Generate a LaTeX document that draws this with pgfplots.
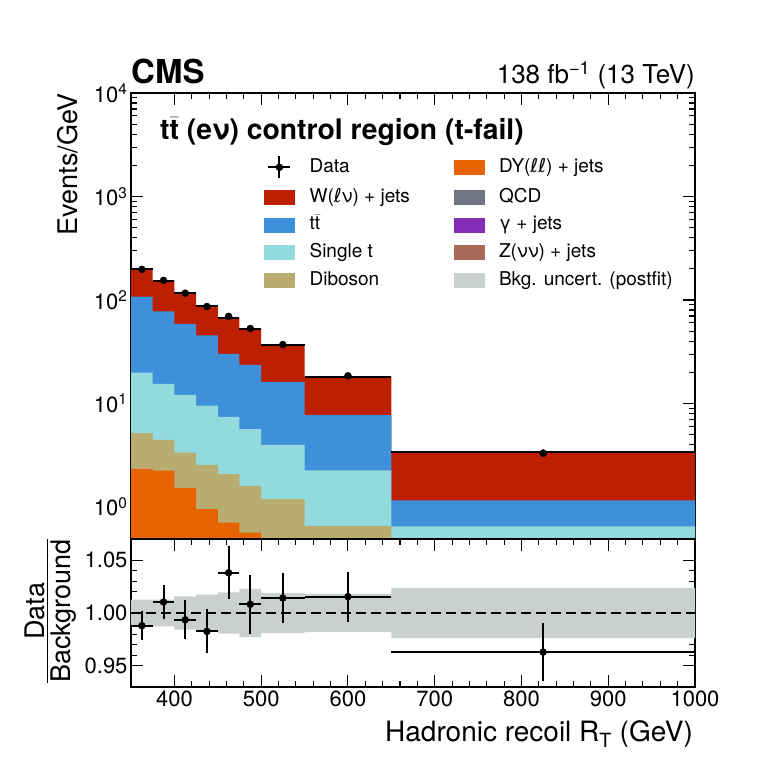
\documentclass[border=0pt]{standalone}
\usepackage{fontspec}
\setmainfont{TeX Gyre Heros}
\newfontfamily\dejavu{DejaVu Sans}
\usepackage{amsmath}
\usepackage{pgfplots}
\pgfplotsset{compat=1.18}
\definecolor{cW}{HTML}{BD1F01}
\definecolor{ctt}{HTML}{3F90DA}
\definecolor{cst}{HTML}{92DADD}
\definecolor{cdb}{HTML}{B9AC70}
\definecolor{cdy}{HTML}{E76300}
\definecolor{cqcd}{HTML}{717581}
\definecolor{cgam}{HTML}{832DB6}
\definecolor{czvv}{HTML}{A96B59}
\definecolor{cunc}{HTML}{C9D0CF}
\newcommand{\lep}{{\dejavu ℓ}}
\newcommand{\tb}{t$\bar{\text{t}}$}
\newcommand{\legbox}[1]{\addlegendimage{legend image code/.code={\fill[#1] (0pt,-7pt) rectangle (30pt,7pt);}}}
\pgfplotsset{cmsaxis/.style={
  scale only axis, width=564pt, anchor=south west,
  xmin=350, xmax=1000, xtick={400,500,...,1000}, minor x tick num=4,
  tick align=inside, tick pos=both,
  major tick length=12pt, minor tick length=6pt,
  axis line style={line width=2.2pt},
  tick style={line width=1.1pt, black},
  tick label style={font=\fontsize{22}{22}\selectfont},
  xticklabel style={/pgf/number format/1000 sep={}},
  /pgf/number format/assume math mode=true,
  label style={font=\fontsize{27}{27}\selectfont},
}}
\begin{document}
\begin{tikzpicture}[x=1pt,y=1pt]
\path[use as bounding box] (0,0) rectangle (773,773);
\begin{axis}[cmsaxis, name=main, at={(131pt,234pt)}, height=446pt,
  ymode=log, ymin=0.49, ymax=10000,
  ytick={1,10,100,1000,10000},
  yticklabels={10\textsuperscript{0},10\textsuperscript{1},10\textsuperscript{2},10\textsuperscript{3},10\textsuperscript{4}},
  minor ytick={0.5,0.6,0.7,0.8,0.9,2,3,4,5,6,7,8,9,20,30,40,50,60,70,80,90,200,300,400,500,600,700,800,900,2000,3000,4000,5000,6000,7000,8000,9000},
  xticklabels={},
  ylabel={Events/GeV},
  ylabel style={at={(axis description cs:-0.131,1)}, anchor=north east, inner sep=0pt},
  legend style={at={(axis description cs:0.2305,0.8652)}, anchor=north west, draw=none, fill=none,
    font=\fontsize{19}{19}\selectfont, row sep=7.7pt, column sep=0pt,
    nodes={inner sep=1pt, text height=14pt, text depth=4pt},
    /tikz/every odd column/.append style={column sep=14pt}},
  legend cell align=left, legend columns=2,
]
% stacked histogram (cumulative tops)
\addplot[forget plot, const plot, fill=cW, draw=none] coordinates {(350,0.1) (350,200) (375,153) (400,117) (425,88) (450,67) (475,52.6) (500,36.6) (550,18.2) (650,3.43) (1000,3.43) (1000,0.1)} -- cycle;
\addplot[forget plot, const plot, fill=ctt, draw=none] coordinates {(350,0.1) (350,108) (375,77.4) (400,58.9) (425,45.4) (450,30.2) (475,23.6) (500,16.2) (550,7.7) (650,1.16) (1000,1.16) (1000,0.1)} -- cycle;
\addplot[forget plot, const plot, fill=cst, draw=none] coordinates {(350,0.1) (350,19.9) (375,15.5) (400,12.1) (425,9.55) (450,7.42) (475,5.64) (500,3.98) (550,2.26) (650,0.65) (1000,0.65) (1000,0.1)} -- cycle;
\addplot[forget plot, const plot, fill=cdb, draw=none] coordinates {(350,0.1) (350,5.16) (375,4.45) (400,3.35) (425,2.55) (450,2.08) (475,1.6) (500,1.19) (550,0.655) (650,0.40) (1000,0.40) (1000,0.1)} -- cycle;
\addplot[forget plot, const plot, fill=cdy, draw=none] coordinates {(350,0.1) (350,2.33) (375,2.24) (400,1.52) (425,0.95) (450,0.705) (475,0.564) (500,0.40) (550,0.30) (650,0.20) (1000,0.20) (1000,0.1)} -- cycle;
% total background line
\addplot[forget plot, only marks, mark=none, error bars/.cd, x dir=both, x explicit, error mark=none,
  error bar style={draw=black, line width=2pt}] coordinates {
  (362.5,200) +- (12.5,0) (387.5,153) +- (12.5,0) (412.5,117) +- (12.5,0) (437.5,88) +- (12.5,0)
  (462.5,67) +- (12.5,0) (487.5,52.6) +- (12.5,0) (525,36.6) +- (25,0) (600,18.2) +- (50,0) (825,3.43) +- (175,0)};
% data
\addplot[forget plot, only marks, mark=*, mark size=3.5pt, black] coordinates {
  (362.5,197.6) (387.5,154.6) (412.5,116.3) (437.5,86.5) (462.5,69.5) (487.5,53.0) (525,37.1) (600,18.5) (825,3.30)};
% legend
\addlegendimage{legend image code/.code={\draw[black,line width=2pt] (4pt,0pt)--(26pt,0pt) (15pt,-11pt)--(15pt,11pt); \fill[black] (15pt,0pt) circle (3.5pt);}}
\addlegendentry{\makebox[143pt][l]{Data}}
\legbox{cdy}\addlegendentry{DY(\lep\lep) + jets}
\legbox{cW}\addlegendentry{\makebox[143pt][l]{W(\lep ν) + jets}}
\legbox{cqcd}\addlegendentry{QCD}
\legbox{ctt}\addlegendentry{\makebox[143pt][l]{\tb}}
\legbox{cgam}\addlegendentry{γ + jets}
\legbox{cst}\addlegendentry{\makebox[143pt][l]{Single t}}
\legbox{czvv}\addlegendentry{Z(νν) + jets}
\legbox{cdb}\addlegendentry{\makebox[143pt][l]{Diboson}}
\legbox{cunc}\addlegendentry{Bkg. uncert. (postfit)}
\end{axis}
\begin{axis}[cmsaxis, name=ratio, at={(131pt,86pt)}, height=148pt,
  ymin=0.93, ymax=1.07, ytick={0.95,1,1.05}, minor y tick num=4,
  yticklabel style={/pgf/number format/.cd, fixed, fixed zerofill, precision=2},
  xlabel={Hadronic recoil R\textsubscript{T} (GeV)},
  xlabel style={font=\fontsize{28}{28}\selectfont, at={(axis description cs:0.9965,-0.37)}, anchor=base east, inner sep=0pt},
  ylabel={\setlength{\arrayrulewidth}{1.3pt}\begin{tabular}{@{}c@{}}Data\hspace{40pt}\\[-6pt]\hline\rule{0pt}{22.5pt}Background\end{tabular}},
  ylabel style={at={(axis description cs:-0.188,1.0)}, anchor=north east, inner sep=0pt},
]
\addplot[fill=cunc, draw=none] coordinates {
  (350,1.0127) (400,1.0127) (400,1.0158) (425,1.0158) (425,1.0174) (450,1.0174) (450,1.0196) (475,1.0196)
  (475,1.0228) (500,1.0228) (500,1.019) (550,1.019) (550,1.018) (650,1.018) (650,1.0237) (1000,1.0237)
  (1000,0.9763) (650,0.9763) (650,0.982) (550,0.982) (550,0.981) (500,0.981) (500,0.9772) (475,0.9772)
  (475,0.9804) (450,0.9804) (450,0.9826) (425,0.9826) (425,0.9842) (400,0.9842) (400,0.9873) (350,0.9873)} -- cycle;
\addplot[black, line width=2pt, dash pattern=on 10pt off 5pt] coordinates {(350,1) (1000,1)};
\addplot[only marks, mark=*, mark size=3.5pt, black, error bars/.cd, x dir=both, x explicit, y dir=both, y explicit,
  error mark=none, error bar style={draw=black, line width=2pt}] coordinates {
  (362.5,0.988) +- (12.5,0.0139) (387.5,1.0104) +- (12.5,0.0163) (412.5,0.9936) +- (12.5,0.0183)
  (437.5,0.9826) +- (12.5,0.0209) (462.5,1.038) +- (12.5,0.025) (487.5,1.0082) +- (12.5,0.028)
  (525,1.0142) +- (25,0.0237) (600,1.0155) +- (50,0.0237) (825,0.963) +- (175,0.0274)};
\end{axis}
\node[anchor=base west, font=\fontsize{33}{33}\selectfont\bfseries, inner sep=0pt] at (131,689) {CMS};
\node[anchor=base east, font=\fontsize{26}{26}\selectfont, inner sep=0pt] at (695,689) {138 fb\textsuperscript{−1} (13 TeV)};
\node[anchor=base west, font=\fontsize{28.3}{28.3}\selectfont\bfseries, inner sep=0pt] at (160,633) {\tb\ (eν) control region (t-fail)};
\end{tikzpicture}
\end{document}
